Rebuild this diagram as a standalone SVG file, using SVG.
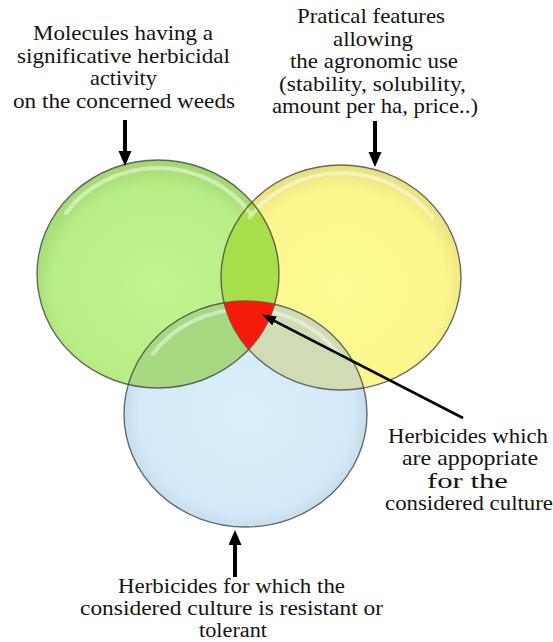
<svg xmlns="http://www.w3.org/2000/svg" width="553" height="642" viewBox="0 0 553 642">
<style>
  .lbl { font-family: "Liberation Serif", "Times New Roman", serif; font-size: 21px; fill: #141414; }
  .sm { font-size: 20px; }
  .edge { fill: none; stroke: #3c3c3c; stroke-width: 1.4; stroke-opacity: 0.75; }
  .hl { fill: none; stroke: #ffffff; stroke-width: 4; stroke-opacity: 0.45; stroke-linecap: round; }
  .thick { stroke: #000; stroke-width: 4; fill: none; }
  .thin { stroke: #000; stroke-width: 2.6; fill: none; }
</style>
<defs>
  <radialGradient id="gG" cx="0.5" cy="0.55" r="0.55">
    <stop offset="0" stop-color="#c1f690"/>
    <stop offset="0.8" stop-color="#b6ed84"/>
    <stop offset="1" stop-color="#a0d570"/>
  </radialGradient>
  <radialGradient id="gY" cx="0.5" cy="0.55" r="0.55">
    <stop offset="0" stop-color="#fffb94"/>
    <stop offset="0.8" stop-color="#fbf68d"/>
    <stop offset="1" stop-color="#e5df7e"/>
  </radialGradient>
  <radialGradient id="gB" cx="0.5" cy="0.5" r="0.55">
    <stop offset="0" stop-color="#dbf0fc"/>
    <stop offset="0.8" stop-color="#d3e9f7"/>
    <stop offset="1" stop-color="#bcd4e6"/>
  </radialGradient>
  <clipPath id="cY"><ellipse cx="341" cy="277.5" rx="120" ry="112.5"/></clipPath>
  <clipPath id="cB"><ellipse cx="245.5" cy="414" rx="121.5" ry="113"/></clipPath>
  <marker id="ah" markerUnits="userSpaceOnUse" markerWidth="16" markerHeight="14" refX="3" refY="6.5" orient="auto">
    <path d="M0,0 L15,6.5 L0,13 z" fill="#000"/>
  </marker>
  <marker id="ahs" markerUnits="userSpaceOnUse" markerWidth="15" markerHeight="11" refX="3" refY="5" orient="auto">
    <path d="M0,0 L14,5 L0,10 z" fill="#000"/>
  </marker>
</defs>

<g id="circle-culture">
  <ellipse cx="245.5" cy="414" rx="121.5" ry="113" fill="url(#gB)"/>
</g>
<g id="circle-activity">
  <ellipse cx="158" cy="274" rx="121" ry="114" fill="url(#gG)"/>
</g>
<g id="circle-practical">
  <ellipse cx="341" cy="277.5" rx="120" ry="112.5" fill="url(#gY)"/>
</g>

<g id="overlaps">
  <g clip-path="url(#cY)"><ellipse cx="158" cy="274" rx="121" ry="114" fill="#a8de4a"/></g>
  <g clip-path="url(#cB)"><ellipse cx="158" cy="274" rx="121" ry="114" fill="#a6d981"/></g>
  <g clip-path="url(#cB)"><ellipse cx="341" cy="277.5" rx="120" ry="112.5" fill="#d0dcb4"/></g>
</g>

<g id="highlights">
  <path class="hl" d="M66,213 A112.5,106 0 0 1 250,213"/>
  <path class="hl" d="M249.6,217.5 A111.6,104.6 0 0 1 432.4,217.5"/>
  <path class="hl" d="M153,353.7 A113,105 0 0 1 338,353.7" stroke-opacity="0.35"/>
</g>

<g id="outlines">
  <ellipse class="edge" cx="245.5" cy="414" rx="121.5" ry="113"/>
  <ellipse class="edge" cx="158" cy="274" rx="121" ry="114"/>
  <ellipse class="edge" cx="341" cy="277.5" rx="120" ry="112.5"/>
</g>

<g id="intersection-all">
  <g clip-path="url(#cB)"><g clip-path="url(#cY)"><ellipse cx="158" cy="274" rx="121" ry="114" fill="#f41b0b"/></g></g>
</g>

<g id="connectors">
  <line class="thick" x1="125" y1="120" x2="125" y2="154" marker-end="url(#ah)"/>
  <line class="thick" x1="375" y1="121" x2="375" y2="155" marker-end="url(#ah)"/>
  <line class="thick" x1="235" y1="577" x2="235" y2="542" marker-end="url(#ah)"/>
  <line class="thin" x1="463" y1="418" x2="271.9" y2="319.6" marker-end="url(#ahs)"/>
</g>

<g id="label-activity">
  <text class="lbl" x="33" y="40" textLength="180" lengthAdjust="spacingAndGlyphs">Molecules having a</text>
  <text class="lbl" x="17" y="62.5" textLength="213" lengthAdjust="spacingAndGlyphs">significative herbicidal</text>
  <text class="lbl" x="90" y="85" textLength="67" lengthAdjust="spacingAndGlyphs">activity</text>
  <text class="lbl" x="13" y="107.5" textLength="222" lengthAdjust="spacingAndGlyphs">on the concerned weeds</text>
</g>
<g id="label-practical">
  <text class="lbl" x="297" y="23" textLength="148" lengthAdjust="spacingAndGlyphs">Pratical features</text>
  <text class="lbl" x="333" y="45.5" textLength="80" lengthAdjust="spacingAndGlyphs">allowing</text>
  <text class="lbl" x="290" y="68" textLength="168" lengthAdjust="spacingAndGlyphs">the agronomic use</text>
  <text class="lbl" x="279" y="90.5" textLength="187" lengthAdjust="spacingAndGlyphs">(stability, solubility,</text>
  <text class="lbl" x="272" y="113" textLength="206" lengthAdjust="spacingAndGlyphs">amount per ha, price..)</text>
</g>
<g id="label-appropriate">
  <text class="lbl" x="388" y="442.5" textLength="160" lengthAdjust="spacingAndGlyphs">Herbicides which</text>
  <text class="lbl" x="402" y="465" textLength="136" lengthAdjust="spacingAndGlyphs">are appopriate</text>
  <text class="lbl" x="427" y="487.5" textLength="81" lengthAdjust="spacingAndGlyphs">for the</text>
  <text class="lbl" x="385" y="510" textLength="168" lengthAdjust="spacingAndGlyphs">considered culture</text>
</g>
<g id="label-culture">
  <text class="lbl sm" x="118" y="593" textLength="227" lengthAdjust="spacingAndGlyphs">Herbicides for which the</text>
  <text class="lbl sm" x="80" y="615" textLength="303" lengthAdjust="spacingAndGlyphs">considered culture is resistant or</text>
  <text class="lbl sm" x="199" y="637" textLength="68" lengthAdjust="spacingAndGlyphs">tolerant</text>
</g>
</svg>
